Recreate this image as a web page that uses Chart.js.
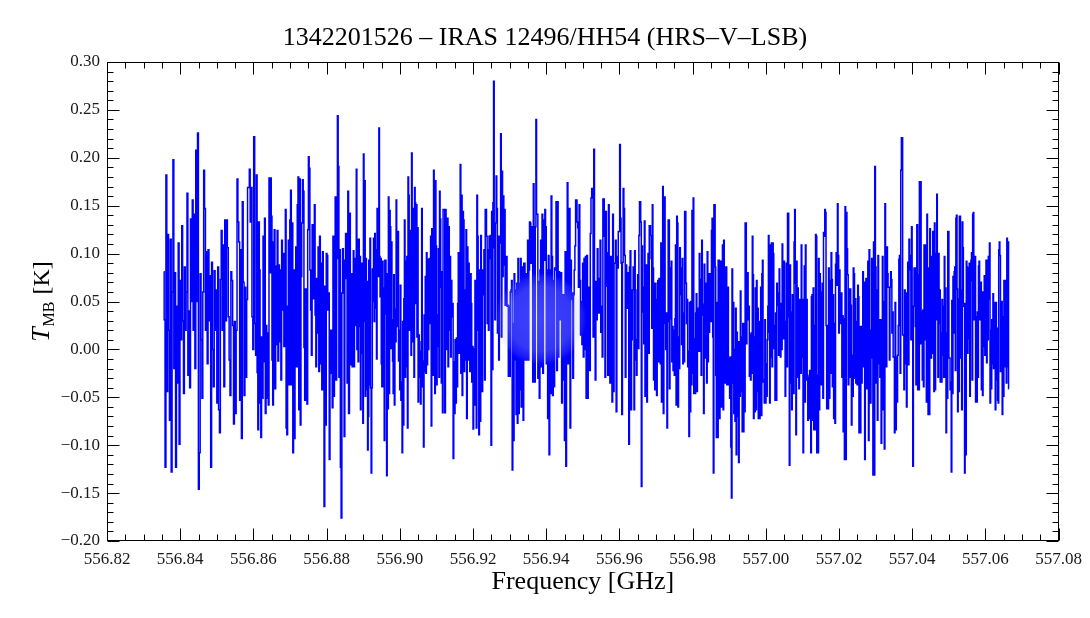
<!DOCTYPE html>
<html><head><meta charset="utf-8">
<script src="https://cdn.jsdelivr.net/npm/chart.js@4.4.0/dist/chart.umd.min.js"></script>
<style>html,body{margin:0;padding:0;background:#fff;}#wrap{width:1090px;height:618px;}</style>
</head><body><div id="wrap"><canvas id="c" width="1090" height="618"></canvas></div>
<script>
const titleText = '1342201526 \u2013 IRAS 12496/HH54 (HRS\u2013V\u2013LSB)';
const xAxisTitle = 'Frequency [GHz]';
const yAxisTitleMain = 'T';
const yAxisTitleSub = 'MB';
const yAxisTitleUnit = ' [K]';
const xTickLabels = ['556.82','556.84','556.86','556.88','556.90','556.92','556.94','556.96','556.98','557.00','557.02','557.04','557.06','557.08'];
const yTickLabels = ['\u22120.20','\u22120.15','\u22120.10','\u22120.05','0.00','0.05','0.10','0.15','0.20','0.25','0.30'];
const xMinorPerMajor = 4;
const yMinorPerMajor = 5;

// frequency span [GHz] covered by each block of channels
const segmentRanges = [
  [556.8355, 556.8602],[556.8605, 556.8861],[556.8864, 556.9119],
  [556.9122, 556.9378],[556.9380, 556.9636],[556.9639, 556.9894],
  [556.9897, 557.0153],[557.0155, 557.0411],[557.0414, 557.0664]
];
// T_MB [K] per channel
const seg1 = [0.081,0.031,-0.123,0.182,-0.044,0.120,0.020,-0.074,0.115,-0.128,0.060,0.198,-0.020,0.080,-0.123,0.045,-0.035,0.111,-0.099,0.072,0.010,0.129,0.030,-0.046,0.086,0.020,0.060,0.163,-0.027,0.040,-0.040,0.136,0.050,0.156,0.020,0.141,-0.020,0.208,0.050,0.226,-0.146,-0.108,0.079,0.010,-0.051,0.060,0.187,0.147,0.020,0.102,-0.015,0.104,0.030,0.077,-0.123,0.091,0.000,-0.039,0.082,0.020,0.062,-0.056,0.086,-0.063,-0.087,0.073,0.124,0.020,0.109,-0.039,0.135,0.030,0.135,0.106,0.034,-0.011,-0.048,0.081,0.072,0.025,-0.078,0.029,-0.067,0.020,0.178,0.133,0.112,-0.053,0.104,-0.093,0.154,0.070,-0.048,0.065,-0.029,0.052,0.169,0.169,0.188,0.133,0.169,0.034,0.000,0.222];
const seg2 = [0.027,-0.006,0.182,-0.024,-0.084,0.133,0.083,-0.056,-0.092,0.013,-0.051,0.118,-0.013,0.137,-0.067,0.025,-0.051,0.017,-0.058,0.179,0.080,0.179,0.139,-0.011,-0.058,0.112,0.125,-0.041,0.087,0.005,0.124,-0.012,0.088,0.083,0.008,-0.032,0.114,0.100,0.041,0.003,0.100,0.146,-0.082,-0.089,0.045,0.114,-0.037,0.135,0.166,-0.037,0.132,-0.108,0.083,-0.093,0.053,0.107,-0.018,0.151,0.180,-0.063,0.178,-0.079,0.076,0.132,0.177,0.165,0.002,-0.053,0.063,-0.044,-0.057,0.125,0.201,0.189,0.083,0.041,-0.006,0.130,0.100,0.053,0.151,0.036,-0.018,0.074,0.017,0.107,-0.023,0.118,0.090,-0.015,-0.042,0.102,-0.041,-0.164,0.066,-0.079,0.100,0.098,0.041,0.059,-0.115,-0.002,0.020,-0.025,-0.061,0.118,-0.049,0.081,0.159,-0.032,0.095,0.244,0.191,-0.029,0.104,-0.123,-0.176,0.059,0.105,0.083,-0.091,0.093,0.121,0.074,-0.035,0.165,-0.067];
const seg3 = [0.142,0.031,-0.016,0.079,-0.018,0.079,0.103,-0.018,0.095,0.025,0.095,0.188,0.000,0.115,-0.013,0.115,0.024,0.097,-0.063,0.052,0.090,-0.004,-0.077,0.204,0.029,0.176,-0.049,0.095,-0.042,0.071,-0.105,-0.070,0.093,-0.037,0.116,-0.040,-0.129,-0.040,0.084,0.050,0.116,0.029,0.121,0.043,0.104,-0.010,0.147,0.147,0.076,0.231,0.097,0.055,0.095,-0.015,-0.039,0.092,-0.039,0.064,-0.095,0.093,0.093,0.037,-0.132,0.079,-0.062,0.159,-0.046,0.145,0.128,0.001,0.112,0.031,-0.012,-0.046,0.078,-0.058,0.042,0.008,0.156,0.123,0.024,0.123,-0.012,0.020,-0.042,0.067,-0.053,-0.034,-0.108,0.029,-0.079,0.053,0.135,-0.029,0.092,-0.018,0.097,-0.082,0.180,0.161,0.020,0.124,0.097,-0.006,0.205,0.084,0.008,0.147,-0.029,0.169,0.153,0.048,0.151,0.013,0.127,-0.055,0.015,-0.029,-0.002,-0.057,0.008,0.147,-0.039,-0.012,-0.102,0.036,-0.023,0.076,-0.025,0.101,-0.016,0.094,0.000,0.079,0.095,0.027,0.118,-0.080,0.126,0.098,-0.027,0.187,0.120,-0.046,0.176,0.108,-0.037,0.036,0.003,0.105,-0.029,0.165,0.136,0.065,-0.035,0.081,-0.066,0.146];
const seg4 = [0.146,-0.066,0.146,0.000,0.050,0.137,-0.018,0.128,0.020,0.097,-0.008,0.072,0.034,0.048,-0.114,-0.013,-0.067,0.010,-0.056,0.012,-0.039,0.048,0.101,-0.004,0.097,0.193,-0.025,0.161,-0.048,0.144,0.135,-0.023,0.062,-0.011,0.125,-0.072,0.107,-0.011,0.090,0.048,-0.023,0.079,0.048,-0.034,0.003,-0.083,0.001,-0.058,0.072,0.024,-0.082,0.161,0.118,0.020,-0.089,0.083,-0.075,0.119,0.032,-0.044,0.083,0.057,0.104,-0.032,0.146,0.146,0.118,0.027,0.104,0.020,0.118,0.095,0.119,-0.100,0.144,-0.021,0.153,0.280,0.106,0.031,0.132,0.181,0.147,0.017,0.118,-0.011,0.111,0.118,0.225,0.013,0.186,0.076,0.160,0.088,0.146,0.046,0.097,0.097,0.045,0.046,-0.028,0.045,-0.028,0.060,0.062,0.072,-0.126,0.027,-0.095,0.079,-0.011,0.062,-0.068,0.069,-0.077,0.095,-0.067,0.069,-0.042,0.095,-0.060,0.067,0.086,-0.074,0.090,0.090,-0.011,0.060,0.079,-0.011,0.114,-0.011,0.083,0.133,0.132,0.090,0.128,0.098,-0.034,0.173,0.111,-0.034,0.128,0.240,0.141,0.141,-0.030];
const seg5 = [0.071,-0.051,0.083,0.114,-0.018,0.141,-0.025,0.135,0.093,0.146,0.128,-0.015,0.083,-0.072,0.098,-0.110,0.083,-0.046,0.160,0.097,-0.048,0.072,-0.039,0.085,0.083,0.154,-0.022,0.154,-0.008,0.081,0.078,0.031,0.080,-0.056,0.029,0.057,-0.032,-0.095,0.102,-0.122,0.034,0.174,-0.015,0.058,0.147,-0.082,0.093,0.052,0.059,-0.030,0.057,0.083,0.108,0.156,0.156,0.133,0.127,0.065,0.151,0.072,0.015,0.050,0.005,0.090,-0.008,0.095,0.000,0.097,-0.051,0.098,-0.051,0.064,0.065,-0.022,0.121,0.158,0.168,0.158,0.013,0.209,0.070,-0.032,0.071,0.031,0.105,0.074,0.038,0.065,0.114,0.018,0.045,-0.008,0.157,0.157,0.118,-0.029,0.144,0.066,0.101,-0.027,0.151,0.079,-0.035,0.097,0.090,-0.055,0.141,-0.044,0.090,0.090,0.114,-0.065,0.097,0.085,0.123,0.123,0.214,0.137,0.090,-0.068,0.091,0.168,0.147,0.098,-0.029,0.088,0.060,0.043,0.080,-0.099,0.086,0.103,-0.063,0.010,0.062];
const seg6 = [0.086,-0.063,0.103,-0.011,0.010,-0.027,0.062,0.078,0.001,0.119,0.154,0.154,0.133,-0.143,0.108,0.039,0.065,0.006,0.134,-0.049,0.018,0.088,-0.055,0.081,0.100,-0.004,0.129,0.129,0.119,0.095,0.022,0.151,0.085,-0.032,0.069,-0.042,0.069,0.024,-0.048,0.052,0.072,-0.013,0.074,0.038,-0.015,0.111,-0.055,0.025,0.170,-0.067,0.133,0.159,0.027,0.000,0.038,-0.082,0.029,0.135,0.135,-0.041,0.085,0.032,0.092,-0.013,0.024,-0.022,0.020,-0.027,0.032,0.109,-0.058,0.139,0.132,-0.060,0.013,-0.020,0.106,0.085,0.057,0.005,0.095,-0.015,0.038,-0.013,0.144,0.144,0.069,0.027,0.052,-0.018,-0.002,-0.091,0.049,-0.065,0.050,-0.037,0.145,-0.025,0.158,-0.046,0.011,-0.046,0.038,0.058,-0.044,0.043,-0.002,0.022,0.100,-0.002,0.073,-0.027,0.114,0.047,0.036,-0.067,0.089,-0.009,0.069,0.045,-0.035,0.102,-0.013,0.079,0.018,0.079,0.072,0.029,0.124,0.137,0.013,-0.129,0.151,0.151,0.086,-0.027,-0.092,0.049,-0.092,0.093,0.093,-0.072,0.065,0.092,-0.060,0.092,0.109,-0.063,0.114,0.052,-0.035,0.086,0.086,-0.037];
const seg7 = [0.065,-0.037,-0.009,-0.051,-0.008,-0.102,-0.155,0.084,-0.035,0.049,-0.067,0.000,-0.075,0.043,-0.110,0.018,-0.070,0.008,-0.118,0.008,-0.049,0.061,-0.044,0.013,-0.086,0.027,-0.086,0.027,-0.065,0.132,0.132,0.006,0.080,0.080,0.031,0.045,-0.028,0.015,-0.032,0.017,-0.025,0.118,0.078,-0.072,0.013,-0.065,0.064,-0.063,0.072,-0.044,0.043,-0.072,0.029,-0.072,0.017,0.065,-0.069,0.079,0.093,-0.034,-0.032,-0.056,0.031,-0.056,-0.015,-0.049,0.010,0.045,0.119,0.018,-0.056,0.109,-0.008,0.111,-0.018,0.111,0.100,0.001,0.025,-0.053,0.038,-0.053,0.069,0.046,0.059,-0.006,0.084,0.048,-0.008,0.048,0.000,0.110,0.092,0.011,0.092,0.022,-0.049,0.029,0.090,-0.018,0.142,0.142,0.034,-0.121,0.088,-0.035,0.039,-0.063,0.057,0.057,-0.046,0.112,0.146,0.069,-0.089,0.092,-0.029,0.064,0.052,-0.041,0.029,0.052,-0.025,0.109,-0.008,0.052,-0.108,0.004,0.087,-0.055,0.109,-0.032,0.052,-0.027,-0.074,-0.029,-0.072,-0.022,-0.022,-0.108,0.055,0.057,-0.074,0.064,-0.084,0.025,-0.084,0.120,0.118,-0.108,-0.027,-0.108,0.095,-0.063,0.079,0.060,-0.037,0.043];
const seg8 = [0.069,-0.051,0.122,0.118,0.146,0.143,0.025,-0.062,0.025,-0.062,0.085,-0.051,0.072,-0.025,0.101,0.073,-0.039,0.057,-0.072,0.027,-0.077,0.089,0.101,0.067,0.152,0.098,0.017,0.083,0.059,0.027,0.059,-0.029,0.035,-0.086,0.032,-0.115,0.149,-0.115,0.143,0.105,0.078,-0.037,0.063,-0.029,0.063,0.046,-0.079,-0.006,-0.049,0.085,0.079,-0.030,0.053,-0.035,0.029,-0.037,0.067,0.055,-0.087,0.024,-0.087,0.024,-0.035,0.003,0.081,-0.018,0.070,-0.115,0.010,0.074,-0.041,0.074,0.092,-0.095,0.104,0.020,-0.056,0.017,0.095,-0.009,-0.131,0.112,-0.131,0.191,0.086,-0.035,0.062,-0.074,0.098,-0.015,0.031,-0.029,0.031,-0.098,0.031,0.097,-0.063,0.050,-0.104,0.152,0.092,-0.018,0.107,0.079,0.065,0.065,-0.011,0.065,0.081,0.073,0.017,0.039,-0.008,-0.008,-0.087,0.049,-0.084,-0.008,-0.055,-0.006,0.025,0.094,0.098,-0.025,0.187,0.221,0.221,0.015,0.015,-0.042,0.062,-0.015,0.059,-0.060,0.059,0.091,-0.016,0.115,0.083,0.098,0.010,0.128,0.043,-0.122,0.045,0.085,0.085,0.024,-0.037];
const seg9 = [0.130,-0.042,0.078,-0.042,0.175,0.006,0.175,0.006,0.039,-0.032,0.041,-0.039,0.109,0.010,0.109,0.060,-0.055,0.141,0.078,-0.068,0.085,-0.068,0.126,0.036,-0.009,0.097,-0.004,0.123,0.055,-0.044,0.132,-0.042,0.100,0.031,0.162,0.091,-0.029,0.100,0.027,0.062,-0.034,0.017,-0.034,0.052,-0.006,0.045,-0.029,0.097,-0.029,0.064,-0.087,0.017,-0.051,0.123,0.123,-0.009,-0.009,-0.042,-0.034,-0.128,0.051,-0.046,0.076,0.017,0.081,0.086,-0.022,0.137,0.140,0.063,-0.065,0.053,-0.044,0.139,0.139,-0.009,0.062,-0.063,0.133,0.106,0.045,0.048,-0.129,0.048,-0.110,0.092,0.086,-0.004,0.085,0.011,0.090,-0.049,0.072,0.093,0.101,-0.032,0.141,0.143,0.031,0.074,0.097,-0.055,0.034,-0.055,0.039,-0.029,0.087,0.092,0.031,0.069,0.070,-0.042,0.060,-0.048,0.060,0.003,0.077,-0.006,0.036,0.093,-0.014,0.093,0.010,0.097,0.052,0.111,-0.056,0.020,-0.041,0.031,-0.015,0.058,-0.020,0.048,0.049,-0.063,0.049,-0.032,0.022,-0.053,-0.056,0.104,0.112,0.098,-0.023,0.034,0.050,-0.068,0.034,-0.049,0.072,-0.018,0.072,0.018,-0.035,0.116,-0.018,0.112,-0.041];
const segments = [seg1,seg2,seg3,seg4,seg5,seg6,seg7,seg8,seg9];

const points = [];
segments.forEach((vals, s) => {
  const [f0, f1] = segmentRanges[s];
  const n = vals.length;
  vals.forEach((v, i) => points.push({x: f0 + (f1 - f0) * i / (n - 1), y: v}));
});

const xTickValues = xTickLabels.map(Number);
const yTickValues = yTickLabels.map(s => Number(s.replace('\u2212', '-')));
const FONT = '"Liberation Serif", "Times New Roman", serif';
const INK = '#1a1a1a';

// faint round logo watermark seen over the middle of the spectrum
const watermarkFreq = 556.9385, watermarkT = 0.032;

const framePlugin = {
  id: 'frame',
  afterDatasetsDraw(chart) {
    const {ctx, scales: {x, y}} = chart;
    const cx = x.getPixelForValue(watermarkFreq), cyw = y.getPixelForValue(watermarkT);
    ctx.save();
    const g = ctx.createRadialGradient(cx, cyw, 0, cx, cyw, 46);
    g.addColorStop(0, 'rgba(215,222,245,0.30)');
    g.addColorStop(0.7, 'rgba(190,198,230,0.28)');
    g.addColorStop(0.9, 'rgba(170,178,215,0.15)');
    g.addColorStop(1, 'rgba(170,178,215,0)');
    ctx.fillStyle = g;
    ctx.beginPath(); ctx.arc(cx, cyw, 46, 0, Math.PI * 2); ctx.fill();
    ctx.restore();
  },
  afterDraw(chart) {
    const {ctx, chartArea: a, scales: {x, y}} = chart;
    ctx.save();
    ctx.strokeStyle = '#000';
    ctx.lineWidth = 1;
    ctx.strokeRect(Math.round(a.left) + 0.5, Math.round(a.top) + 0.5, Math.round(a.right - a.left) - 1, Math.round(a.bottom - a.top) - 1);
    const L = Math.round(a.left) + 0.5, R = Math.round(a.right) - 0.5, T = Math.round(a.top) + 0.5, B = Math.round(a.bottom) - 0.5;
    ctx.beginPath();
    for (let k = 0; k < xTickValues.length; k++) {
      const px = Math.round(x.getPixelForValue(xTickValues[k])) + 0.5;
      ctx.moveTo(px, B); ctx.lineTo(px, B - 12);
      ctx.moveTo(px, T); ctx.lineTo(px, T + 12);
      if (k < xTickValues.length - 1) {
        const step = (xTickValues[k + 1] - xTickValues[k]) / xMinorPerMajor;
        for (let m = 1; m < xMinorPerMajor; m++) {
          const q = Math.round(x.getPixelForValue(xTickValues[k] + m * step)) + 0.5;
          ctx.moveTo(q, B); ctx.lineTo(q, B - 6);
          ctx.moveTo(q, T); ctx.lineTo(q, T + 6);
        }
      }
    }
    for (let k = 0; k < yTickValues.length; k++) {
      const py = Math.round(y.getPixelForValue(yTickValues[k])) + 0.5;
      ctx.moveTo(L, py); ctx.lineTo(L + 12, py);
      ctx.moveTo(R, py); ctx.lineTo(R - 12, py);
      if (k < yTickValues.length - 1) {
        const step = (yTickValues[k + 1] - yTickValues[k]) / yMinorPerMajor;
        for (let m = 1; m < yMinorPerMajor; m++) {
          const q = Math.round(y.getPixelForValue(yTickValues[k] + m * step)) + 0.5;
          ctx.moveTo(L, q); ctx.lineTo(L + 6, q);
          ctx.moveTo(R, q); ctx.lineTo(R - 6, q);
        }
      }
    }
    ctx.stroke();

    ctx.fillStyle = '#000';
    ctx.textAlign = 'center';
    ctx.textBaseline = 'alphabetic';
    ctx.font = '26px ' + FONT;
    ctx.fillText(titleText, chart.width / 2, 45);
    ctx.fillText(xAxisTitle, (a.left + a.right) / 2, 589);
    ctx.save();
    const cy = (a.top + a.bottom) / 2;
    ctx.translate(49, cy);
    ctx.rotate(-Math.PI / 2);
    const fMain = 'italic 26px ' + FONT, fSub = '16px ' + FONT, fUnit = '24px ' + FONT;
    ctx.font = fMain; const w1 = ctx.measureText(yAxisTitleMain).width;
    ctx.font = fSub; const w2 = ctx.measureText(yAxisTitleSub).width;
    ctx.font = fUnit; const w3 = ctx.measureText(yAxisTitleUnit).width;
    let sx = -(w1 + w2 + w3 + 2) / 2;
    ctx.textAlign = 'left';
    ctx.font = fMain; ctx.fillText(yAxisTitleMain, sx, 0); sx += w1 + 1;
    ctx.font = fSub; ctx.fillText(yAxisTitleSub, sx, 5); sx += w2 + 1;
    ctx.font = fUnit; ctx.fillText(yAxisTitleUnit, sx, 0);
    ctx.restore();
    ctx.restore();
  }
};

new Chart(document.getElementById('c'), {
  type: 'line',
  data: {
    datasets: [{
      data: points,
      borderColor: '#0000ff',
      borderWidth: 1.5,
      pointRadius: 0,
      fill: false,
      stepped: 'middle',
      tension: 0
    }]
  },
  options: {
    responsive: false,
    animation: false,
    events: [],
    layout: {padding: {left: 0, right: 27, top: 62, bottom: 0}},
    plugins: {legend: {display: false}, tooltip: {enabled: false}, title: {display: false}},
    scales: {
      x: {
        type: 'linear', min: 556.82, max: 557.08,
        afterBuildTicks: s => { s.ticks = xTickValues.map(v => ({value: v})); },
        afterFit: s => { s.height = 77; },
        ticks: {callback: (v, i) => xTickLabels[i], font: {family: FONT, size: 17}, color: INK, padding: 8, maxRotation: 0, minRotation: 0, autoSkip: false},
        grid: {display: false, drawTicks: false},
        border: {display: false}
      },
      y: {
        type: 'linear', min: -0.2, max: 0.3,
        afterBuildTicks: s => { s.ticks = yTickValues.map(v => ({value: v})); },
        afterFit: s => { s.width = 107; },
        ticks: {callback: (v, i) => yTickLabels[i], font: {family: FONT, size: 17}, color: INK, padding: 7, autoSkip: false},
        grid: {display: false, drawTicks: false},
        border: {display: false}
      }
    }
  },
  plugins: [framePlugin]
});
</script>
</body></html>
